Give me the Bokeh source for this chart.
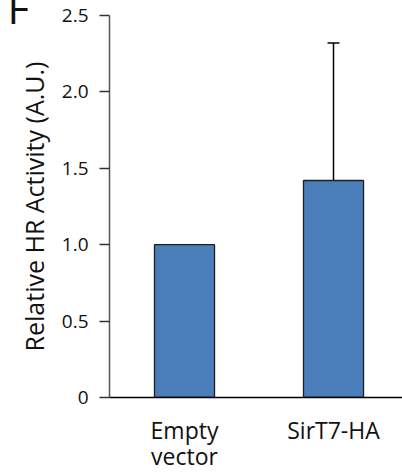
from bokeh.plotting import figure
from bokeh.models import (ColumnDataSource, Range1d, FixedTicker, Whisker, TeeHead,
                          PrintfTickFormatter)
from bokeh.embed import file_html
from bokeh.resources import INLINE

# ---- data ----
categories = ["Empty\nvector", "SirT7-HA"]
values = [1.0, 1.42]
errors = [0.0, 0.90]
y_ticks = [0, 0.5, 1.0, 1.5, 2.0, 2.5]
y_tick_labels = ["0", "0.5", "1.0", "1.5", "2.0", "2.5"]
panel_letter = "F"
y_title = "Relative HR Activity (A.U.)"

xpos = list(range(len(categories)))
src = ColumnDataSource(dict(
    x=xpos,
    top=values,
    upper=[v + e for v, e in zip(values, errors)],
    lower=[v - e for v, e in zip(values, errors)],
))

FONT = "Open Sans"

p = figure(width=402, height=474,
           x_range=Range1d(-0.5034, 1.463), y_range=Range1d(0, 2.5),
           output_backend="svg", toolbar_location=None,
           min_border_left=109, min_border_right=0,
           min_border_top=15, min_border_bottom=77)

p.vbar(x="x", top="top", width=0.403, source=src,
       fill_color="#4a7ebb", line_color="#1e1e1e", line_width=1.3)

w = Whisker(base="x", upper="upper", lower="lower", source=src,
            line_color="black", line_width=1.5,
            upper_head=TeeHead(size=12, line_width=1.5, line_color="black"),
            lower_head=TeeHead(size=12, line_width=1.5, line_color="black"))
p.add_layout(w)

p.grid.visible = False
p.outline_line_color = None
p.background_fill_color = "white"
p.border_fill_color = "white"

# y axis
ya = p.yaxis[0]
ya.ticker = FixedTicker(ticks=y_ticks)
ya.formatter = PrintfTickFormatter(format="%.1f")
ya.major_label_overrides = {t: l for t, l in zip(y_ticks, y_tick_labels)}
ya.major_tick_in = 0
ya.major_tick_out = 10
ya.minor_tick_line_color = None
ya.major_tick_line_color = "#333333"
ya.major_tick_line_width = 1.3
ya.axis_line_color = "#555555"
ya.axis_line_width = 1.5
ya.major_label_standoff = 11
ya.major_label_text_font = FONT
ya.major_label_text_font_size = "19px"
ya.major_label_text_color = "#111111"
ya.axis_label = y_title
ya.axis_label_text_font = FONT
ya.axis_label_text_font_size = "25px"
ya.axis_label_text_font_style = "normal"
ya.axis_label_text_color = "#111111"
ya.axis_label_standoff = 8

# x axis
xa = p.xaxis[0]
xa.ticker = FixedTicker(ticks=xpos)
xa.major_label_overrides = {i: c for i, c in zip(xpos, categories)}
xa.major_tick_line_color = None
xa.minor_tick_line_color = None
xa.major_tick_in = 0
xa.major_tick_out = 0
xa.axis_line_color = "black"
xa.axis_line_width = 1.5
xa.major_label_standoff = 16
xa.major_label_text_font = FONT
xa.major_label_text_font_size = "23px"
xa.major_label_text_color = "#111111"
xa.major_label_text_line_height = 0.82

# partial panel letter at the top-left (its top is cut off, as in the source)
p.title.text = panel_letter
p.title.align = "left"
p.title.vertical_align = "top"
p.title.offset = -102
p.title.standoff = -45
p.title.text_font = FONT
p.title.text_font_size = "42px"
p.title.text_font_style = "normal"
p.title.text_color = "#111111"

open("out.html", "w").write(file_html(p, INLINE))
